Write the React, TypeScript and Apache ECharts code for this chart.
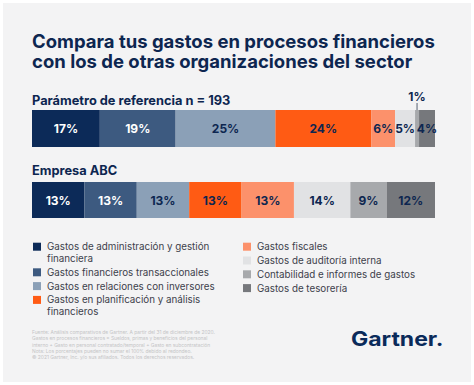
import React, { useEffect, useRef } from "react";
import * as echarts from "echarts";

const categories = [
  "Gastos de administración y gestión\nfinanciera",
  "Gastos financieros transaccionales",
  "Gastos en relaciones con inversores",
  "Gastos en planificación y análisis\nfinancieros",
  "Gastos fiscales",
  "Gastos de auditoría interna",
  "Contabilidad e informes de gastos",
  "Gastos de tesorería",
];
const benchmark = [17, 19, 25, 24, 6, 5, 1, 4];
const companyAbc = [13, 13, 13, 13, 13, 14, 9, 12];
const rowLabels = ["Parámetro de referencia n = 193", "Empresa ABC"];
const titleLines = [
  "Compara tus gastos en procesos financieros",
  "con los de otras organizaciones del sector",
];
const footnote = [
  "Fuente: Análisis comparativos de Gartner. A partir del 31 de diciembre de 2020.",
  "Gastos en procesos financieros = Sueldos, primas y beneficios del personal",
  "interno + Gasto en personal contratado/temporal + Gasto en subcontratación",
  "Nota: Los porcentajes pueden no sumar el 100% debido al redondeo.",
  "© 2021 Gartner, Inc. y/o sus afiliados. Todos los derechos reservados.",
];

const colors = ["#0c2a58", "#3d5a80", "#8ba0b7", "#ff5b14", "#fc916b", "#e1e2e4", "#a7a9ac", "#76787c"];
const labelColors = ["#ffffff", "#ffffff", "#0d2650", "#0d2650", "#0d2650", "#0d2650", "#0d2650", "#0d2650"];
const NAVY = "#0d2650";
const FONT = "Inter, 'Noto Sans', sans-serif";

export default function App() {
  const ref = useRef<HTMLDivElement>(null);
  useEffect(() => {
    if (!ref.current) return;
    const chart = echarts.init(ref.current, undefined, { renderer: "svg" });
    const sum = (a: number[]) => a.reduce((s, v) => s + v, 0);

    const series: any[] = [];
    categories.forEach((name, i) => {
      const small = benchmark[i] < 2;
      series.push({
        type: "bar",
        name,
        stack: "bench",
        xAxisIndex: 0,
        yAxisIndex: 0,
        barWidth: "100%",
        data: [benchmark[i]],
        itemStyle: { color: colors[i] },
        label: small
          ? {
              show: true,
              position: "top",
              distance: 0,
              formatter: "{v|{c}%}\n{l| }",
              rich: {
                v: { fontSize: 12, fontWeight: "bold", color: NAVY, fontFamily: FONT, lineHeight: 13, align: "center" },
                l: { width: 1.2, height: 7, backgroundColor: "#6f7888", align: "center", fontSize: 1, lineHeight: 7 },
              },
            }
          : {
              show: true,
              position: "inside",
              formatter: "{c}%",
              color: labelColors[i],
              fontSize: 12,
              fontWeight: "bold",
              fontFamily: FONT,
            },
      });
      series.push({
        type: "bar",
        name,
        stack: "abc",
        xAxisIndex: 1,
        yAxisIndex: 1,
        barWidth: "100%",
        data: [companyAbc[i]],
        itemStyle: { color: colors[i] },
        label: {
          show: true,
          position: "inside",
          formatter: "{c}%",
          color: labelColors[i],
          fontSize: 12,
          fontWeight: "bold",
          fontFamily: FONT,
        },
      });
    });

    const graphics: any[] = [
      { type: "rect", z: -10, shape: { x: 3, y: 3, width: 468, height: 379 }, style: { fill: "#f3f3f4" } },
      {
        type: "text",
        x: 32,
        y: 31,
        style: { text: titleLines.join("\n"), font: `bold 18.5px ${FONT}`, fill: NAVY, lineHeight: 20 },
      },
      { type: "text", x: 32, y: 94, style: { text: rowLabels[0], font: `bold 12.8px ${FONT}`, fill: NAVY } },
      { type: "text", x: 32, y: 164, style: { text: rowLabels[1], font: `bold 12.8px ${FONT}`, fill: NAVY } },
      {
        type: "text",
        x: 32,
        y: 328.5,
        style: { text: footnote.join("\n"), font: `4.9px ${FONT}`, fill: "#c4c4c6", lineHeight: 6.4 },
      },
      {
        type: "text",
        x: 351,
        y: 329,
        scaleX: 1.15,
        style: { text: "Gartner.", font: `bold 20px ${FONT}`, fill: "#0a2a5a" },
      },
    ];

    // legend
    const lineH = 11.8;
    const gap = 2;
    let yL = 246.7;
    let yR = 246.7;
    categories.forEach((name, i) => {
      const right = i >= 4;
      const x0 = right ? 243 : 33;
      const yc = right ? yR : yL;
      const nLines = name.split("\n").length;
      graphics.push({ type: "rect", shape: { x: x0, y: yc - 4, width: 8, height: 8 }, style: { fill: colors[i] } });
      graphics.push({
        type: "text",
        x: x0 + 14,
        y: yc - lineH / 2,
        style: { text: name, font: `9.8px ${FONT}`, fill: "#3d414b", lineHeight: lineH, verticalAlign: "top" },
      });
      if (right) yR += nLines * lineH + gap;
      else yL += nLines * lineH + gap;
    });

    chart.setOption({
      animation: false,
      backgroundColor: "#ffffff",
      grid: [
        { left: 32, width: 403, top: 110, height: 37 },
        { left: 32, width: 403, top: 182, height: 36 },
      ],
      xAxis: [
        { type: "value", gridIndex: 0, min: 0, max: sum(benchmark), show: false },
        { type: "value", gridIndex: 1, min: 0, max: sum(companyAbc), show: false },
      ],
      yAxis: [
        { type: "category", gridIndex: 0, data: [rowLabels[0]], show: false },
        { type: "category", gridIndex: 1, data: [rowLabels[1]], show: false },
      ],
      series,
      graphic: graphics,
    });
    return () => chart.dispose();
  }, []);
  return <div ref={ref} style={{ position: "fixed", left: 0, top: 0, width: 474, height: 385 }} />;
}
